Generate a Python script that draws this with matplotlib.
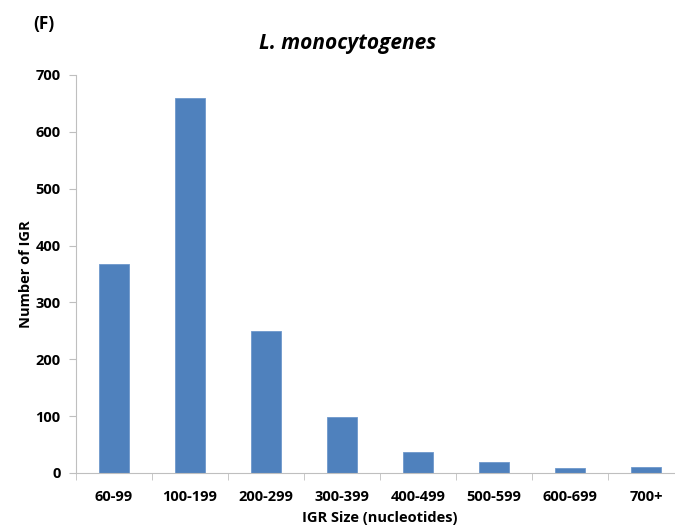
import numpy as np
import matplotlib.pyplot as plt

# IGR size bins and counts
sizes = ['60-99', '100-199', '200-299', '300-399', '400-499', '500-599', '600-699', '700+']
counts = [367, 660, 249, 98, 37, 19, 9, 10]

plt.rcParams['font.family'] = ['Open Sans', 'DejaVu Sans']

fig = plt.figure(figsize=(6.75, 5.29), dpi=100)
ax = fig.add_axes([76/675, 56/529, 608/675, 398/529])

x = np.arange(len(sizes))
ax.bar(x, counts, width=0.4, color='#4F81BD', edgecolor='#6E98CC', linewidth=0.6)

ax.set_xlim(-0.5, len(sizes) - 0.5)
ax.set_ylim(0, 700)
ax.set_yticks(range(0, 701, 100))
ax.set_xticks(x)
ax.set_xticklabels(sizes, fontsize=10.5, fontweight='bold')
ax.set_xticks(np.arange(-0.5, len(sizes)), minor=True)
ax.tick_params(axis='x', which='major', length=0, pad=12)
ax.tick_params(axis='x', which='minor', length=5, color='#BFBFBF', direction='out')
ax.tick_params(axis='y', length=5, color='#BFBFBF', pad=6)
for lab in ax.get_yticklabels():
    lab.set_fontsize(10.5)
    lab.set_fontweight('bold')

for s in ['top', 'right']:
    ax.spines[s].set_visible(False)
ax.spines['left'].set_color('#BFBFBF')
ax.spines['bottom'].set_color('#BFBFBF')

ax.set_ylabel('Number of IGR', fontsize=10.5, fontweight='bold', labelpad=2)
fig.text(380/675, 1 - 518/529, 'IGR Size (nucleotides)', fontsize=10.5, fontweight='bold',
         ha='center', va='center')
fig.text(348/675, 1 - 44/529, 'L. monocytogenes', fontsize=15, fontweight='bold',
         style='italic', ha='center', va='center')
fig.text(33/675, 1 - 24/529, '(F)', fontsize=12.5, fontweight='bold', ha='left', va='center')

plt.savefig('out.png', dpi=100)
